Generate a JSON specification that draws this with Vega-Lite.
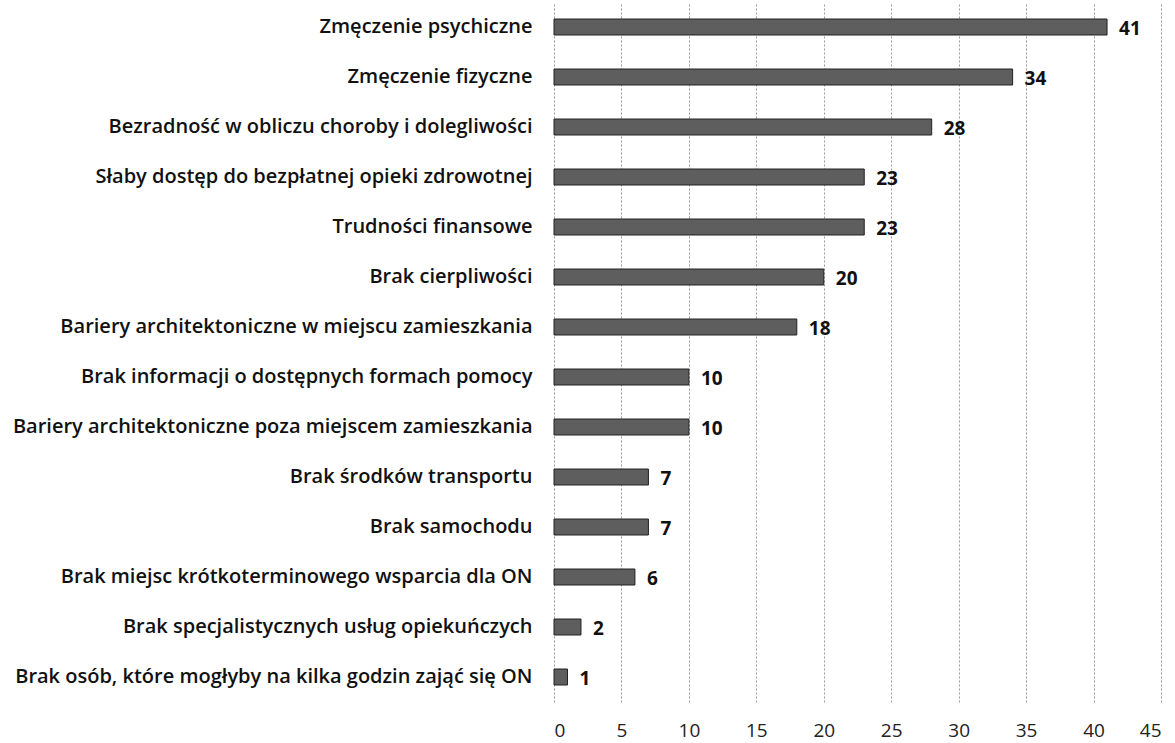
{
  "$schema": "https://vega.github.io/schema/vega-lite/v6.json",
  "width": 607,
  "height": 700,
  "autosize": "none",
  "padding": {"left": 554, "top": 2, "right": 14, "bottom": 41},
  "background": "white",
  "data": {"values": [
    {"kategoria": "Zmęczenie psychiczne", "wartosc": 41},
    {"kategoria": "Zmęczenie fizyczne", "wartosc": 34},
    {"kategoria": "Bezradność w obliczu choroby i dolegliwości", "wartosc": 28},
    {"kategoria": "Słaby dostęp do bezpłatnej opieki zdrowotnej", "wartosc": 23},
    {"kategoria": "Trudności finansowe", "wartosc": 23},
    {"kategoria": "Brak cierpliwości", "wartosc": 20},
    {"kategoria": "Bariery architektoniczne w miejscu zamieszkania", "wartosc": 18},
    {"kategoria": "Brak informacji o dostępnych formach pomocy", "wartosc": 10},
    {"kategoria": "Bariery architektoniczne poza miejscem zamieszkania", "wartosc": 10},
    {"kategoria": "Brak środków transportu", "wartosc": 7},
    {"kategoria": "Brak samochodu", "wartosc": 7},
    {"kategoria": "Brak miejsc krótkoterminowego wsparcia dla ON", "wartosc": 6},
    {"kategoria": "Brak specjalistycznych usług opiekuńczych", "wartosc": 2},
    {"kategoria": "Brak osób, które mogłyby na kilka godzin zająć się ON", "wartosc": 1}
  ]},
  "encoding": {
    "y": {
      "field": "kategoria", "type": "nominal", "sort": null,
      "scale": {"paddingInner": 0.68, "paddingOuter": 0.34},
      "axis": {"title": null, "domain": false, "ticks": false, "grid": false,
               "labelFont": "Open Sans", "labelFontSize": 20, "labelFontWeight": 600,
               "labelColor": "#111", "labelPadding": 22, "labelLimit": 600}
    },
    "x": {
      "field": "wartosc", "type": "quantitative",
      "scale": {"domain": [0, 45], "nice": false},
      "axis": {"title": null, "values": [0,5,10,15,20,25,30,35,40,45], "domain": false, "ticks": false,
               "grid": true, "gridDash": [2, 2], "gridColor": "#999", "gridWidth": 1,
               "labelFont": "Open Sans", "labelFontSize": 19, "labelColor": "#222", "labelPadding": 19}
    }
  },
  "layer": [
    {"mark": {"type": "bar", "fill": "#5e5e5e", "stroke": "#222", "strokeWidth": 1}},
    {"mark": {"type": "text", "align": "left", "dx": 12, "dy": 2, "font": "Open Sans", "fontSize": 19, "fontWeight": "bold", "color": "#111"},
     "encoding": {"text": {"field": "wartosc", "type": "quantitative"}}}
  ],
  "config": {"view": {"stroke": null}}
}
